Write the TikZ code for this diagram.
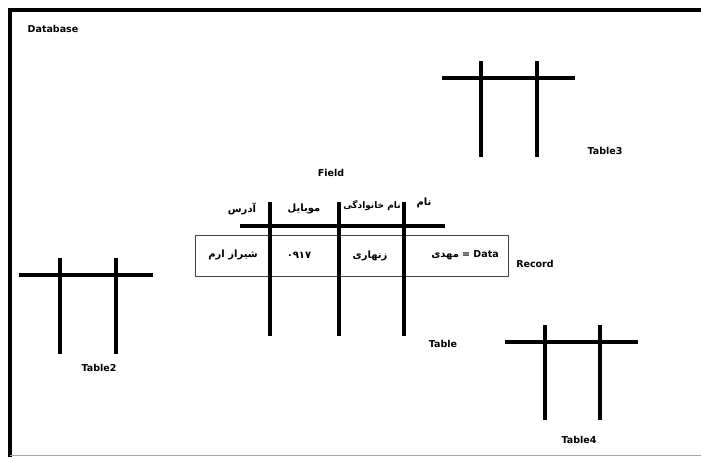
\documentclass[tikz,border=0pt]{standalone}
\usepackage{fontspec}
\setmainfont{DejaVu Sans}
\newfontfamily\arabicfont[Script=Arabic]{DejaVu Sans}
\TeXXeTstate=1
\begin{document}
\begin{tikzpicture}[x=1pt,y=-1pt,
  lbl/.style={font=\bfseries\fontsize{9.5}{11}\selectfont, inner sep=0pt},
  fa/.style={font=\arabicfont\bfseries\fontsize{10}{12}\selectfont, inner sep=0pt},
  heavy/.style={line width=4pt, black},
  frame/.style={line width=4pt, black}]
\useasboundingbox (0,0) rectangle (701,457);
\fill[white] (0,0) rectangle (701,457);
% frame
\draw[frame] (10,457) -- (10,10) -- (701,10);
\draw[gray!70, line width=1.5pt] (10,455.5) -- (701,455.5);
% labels
\node[lbl] (db) at (53,29) {Database};
\node[lbl] (field) at (331,173) {Field};
\node[lbl] (record) at (535,264) {Record};
\node[lbl] (table) at (443,344) {Table};
\node[lbl] (t2) at (99,368) {Table2};
\node[lbl] (t3) at (605,151) {Table3};
\node[lbl] (t4) at (579,440) {Table4};
% record box
\node[draw=black!75, line width=0.8pt, minimum width=313pt, minimum height=41pt, inner sep=0pt] (rec) at (351.5,255.5) {};
% main table lines
\draw[heavy] (240,226) -- (445,226);
\draw[heavy] (270,202) -- (270,336);
\draw[heavy] (339,202) -- (339,336);
\draw[heavy] (404,202) -- (404,336);
% headers
\node[fa] (h1) at (242,209) {\beginR آدرس\endR};
\node[fa] (h2) at (304,209) {\beginR موبایل\endR};
\node[fa, font=\arabicfont\bfseries\fontsize{9}{11}\selectfont] (h3) at (372,206) {\beginR نام خانوادگی\endR};
\node[fa] (h4) at (424,203) {\beginR نام\endR};
% data
\node[fa] (d1) at (233,255) {\beginR شیراز ارم\endR};
\node[fa] (d2) at (299,255) {۰۹۱۷};
\node[fa] (d3) at (370,256) {\beginR زنهاری\endR};
\node[inner sep=0pt] (d4) at (465,255) {{\arabicfont\bfseries\fontsize{10}{12}\selectfont مهدی}\ {\bfseries\fontsize{9.5}{11}\selectfont = Data}};
% Table3
\draw[heavy] (442,78) -- (575,78);
\draw[heavy] (481,61) -- (481,157);
\draw[heavy] (537,61) -- (537,157);
% Table2
\draw[heavy] (19,275) -- (153,275);
\draw[heavy] (60,258) -- (60,354);
\draw[heavy] (116,258) -- (116,354);
% Table4
\draw[heavy] (505,342) -- (638,342);
\draw[heavy] (545,325) -- (545,420);
\draw[heavy] (600,325) -- (600,420);
\end{tikzpicture}
\end{document}
